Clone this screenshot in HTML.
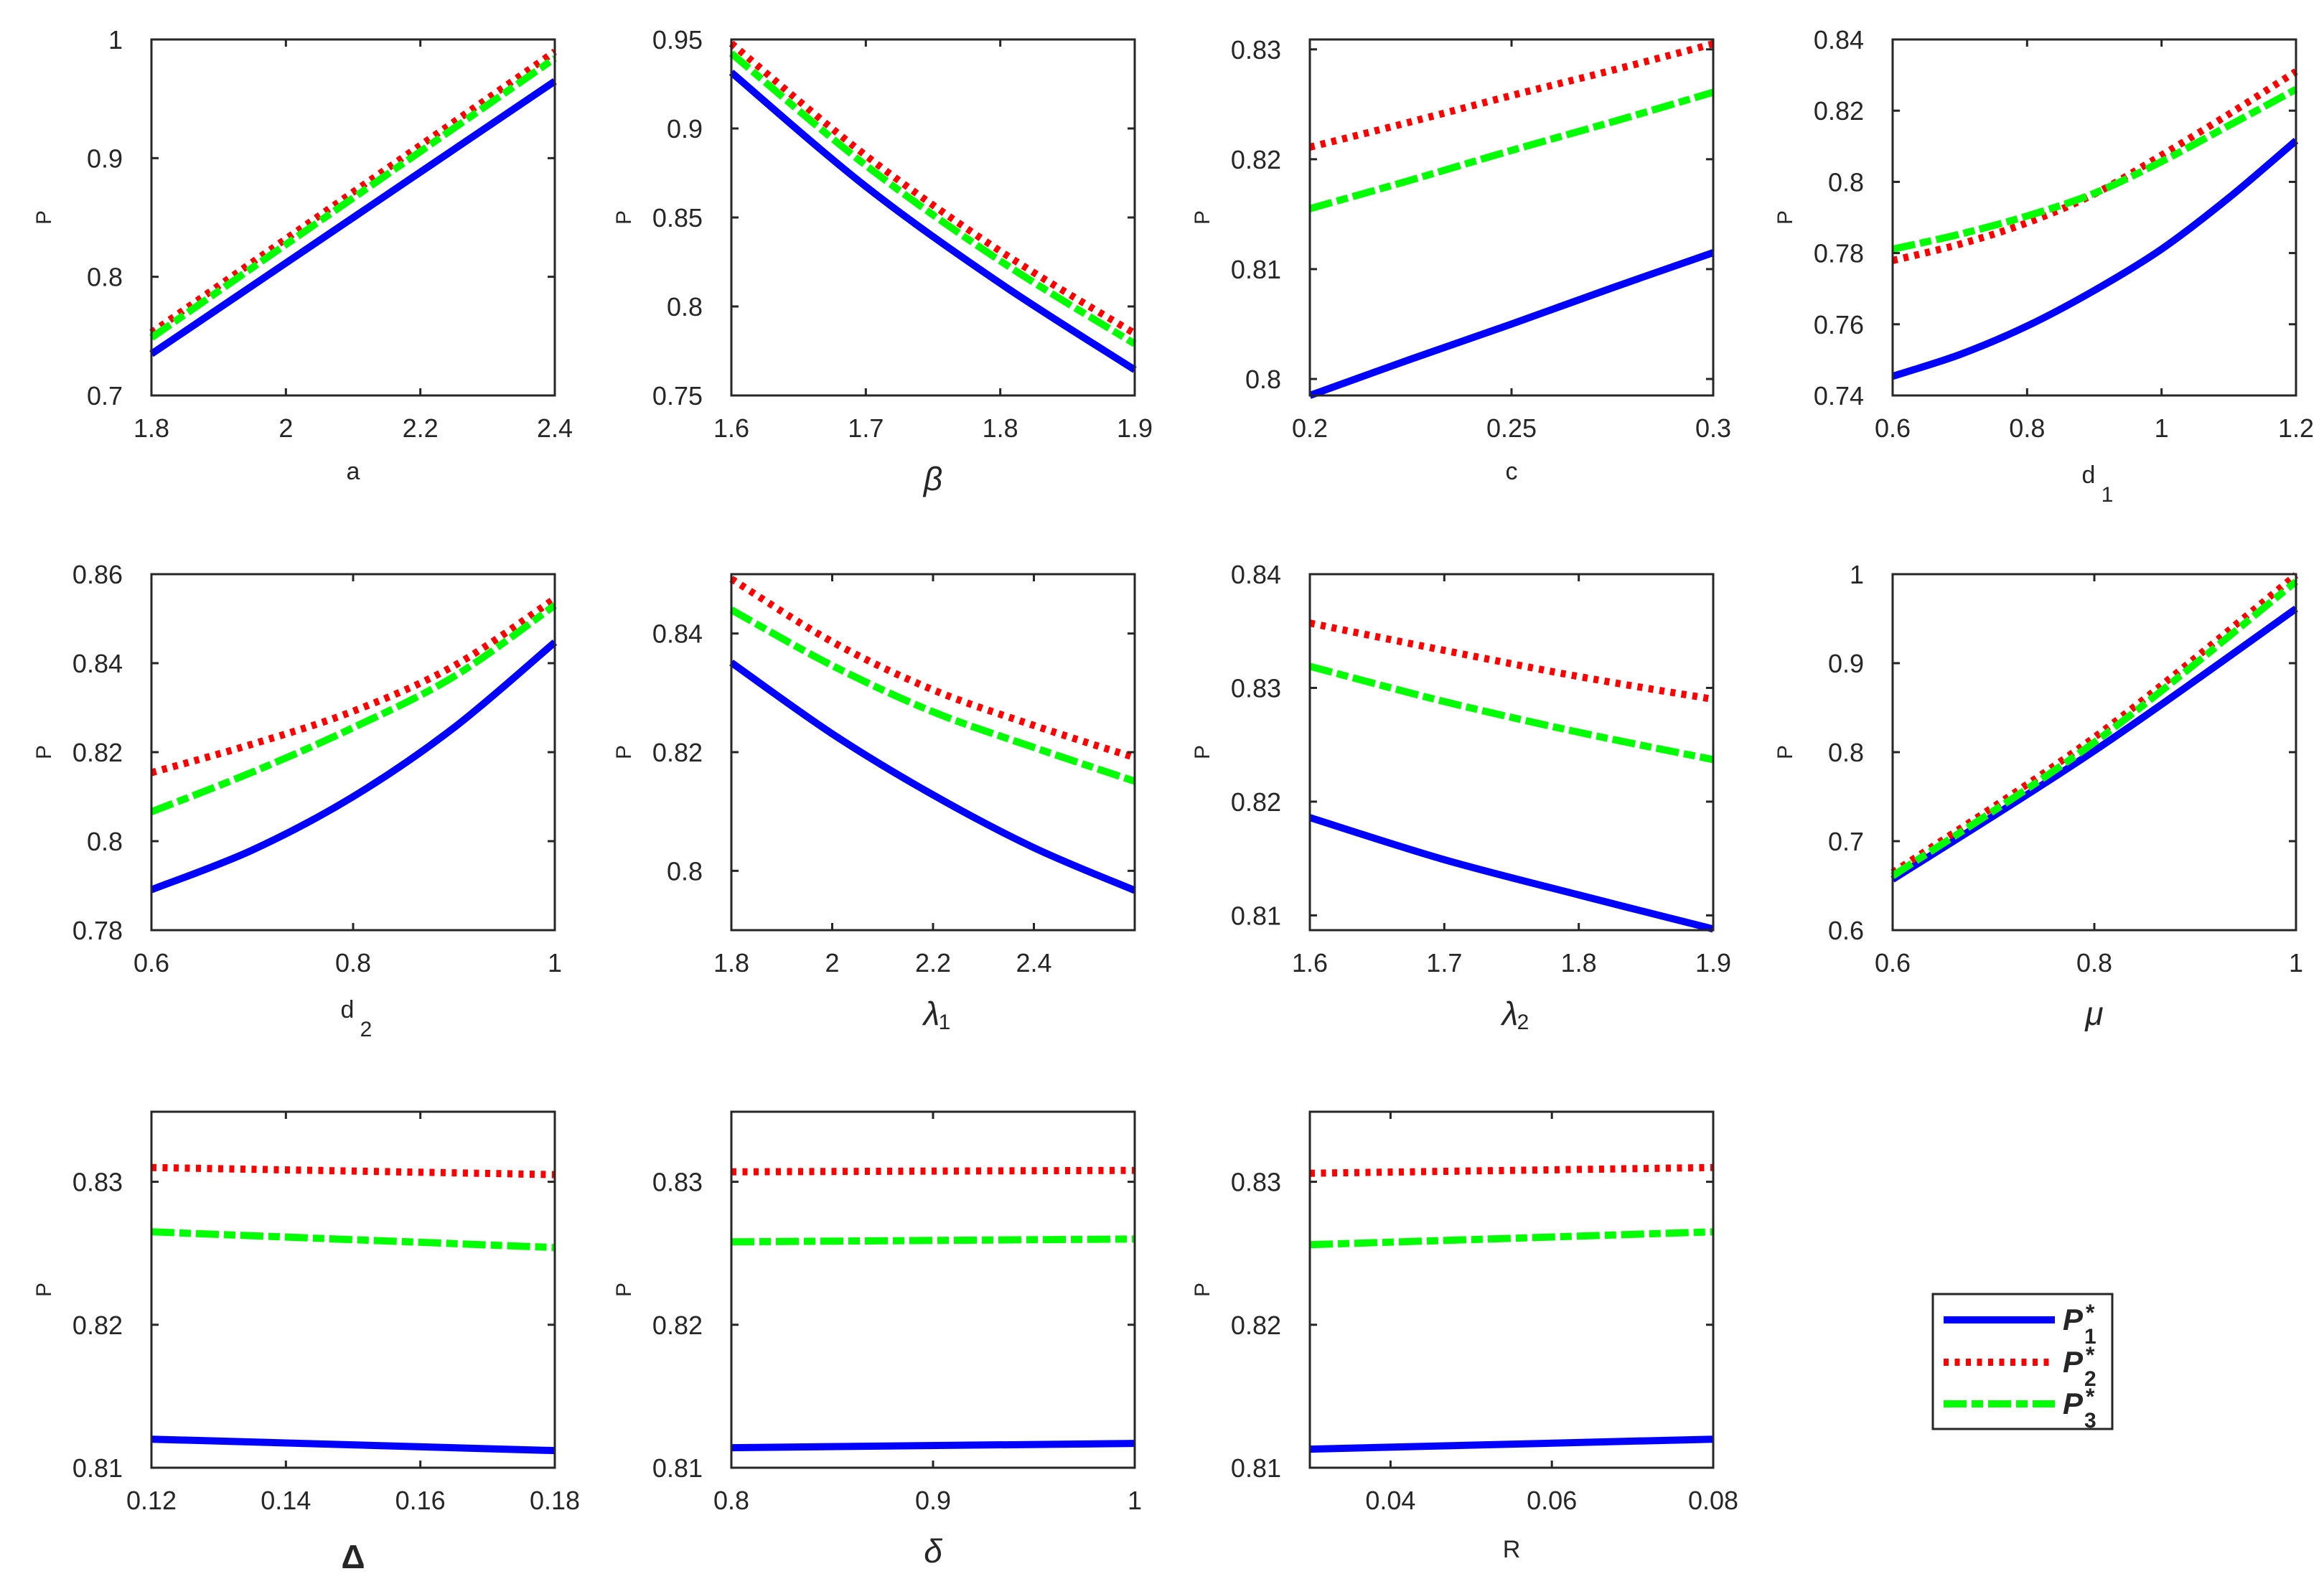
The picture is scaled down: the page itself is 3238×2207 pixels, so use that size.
<!DOCTYPE html>
<html><head><meta charset="utf-8">
<style>
html,body{margin:0;padding:0;background:#fff;}
svg{display:block;}
text{fill:#262626;font-family:"Liberation Sans",sans-serif;}
</style></head>
<body>
<svg id="fig" xmlns="http://www.w3.org/2000/svg" width="3238" height="2207" viewBox="0 0 3238 2207">
<g id="legend">
  <rect x="2693" y="1803" width="250" height="188" fill="#fff" stroke="#262626" stroke-width="3"/>
  <g>
    <line x1="2708" y1="1839" x2="2863" y2="1839" stroke="#0000ff" stroke-width="10"/>
    <text x="2874" y="1853" font-family="Liberation Serif,serif" font-style="italic" font-weight="bold" font-size="42" fill="#000">P</text>
    <text x="2904" y="1872" font-family="Liberation Serif,serif" font-weight="bold" font-size="30" fill="#000">1</text>
    <text x="2906" y="1840" font-family="Liberation Serif,serif" font-weight="bold" font-size="32" fill="#000">*</text>
  </g>
  <g>
    <line x1="2708" y1="1898" x2="2863" y2="1898" stroke="#ff0000" stroke-width="10" stroke-dasharray="7 8.5"/>
    <text x="2874" y="1912" font-family="Liberation Serif,serif" font-style="italic" font-weight="bold" font-size="42" fill="#000">P</text>
    <text x="2904" y="1931" font-family="Liberation Serif,serif" font-weight="bold" font-size="30" fill="#000">2</text>
    <text x="2906" y="1899" font-family="Liberation Serif,serif" font-weight="bold" font-size="32" fill="#000">*</text>
  </g>
  <g>
    <line x1="2708" y1="1956" x2="2863" y2="1956" stroke="#00ff00" stroke-width="10" stroke-dasharray="32 7 16 7"/>
    <text x="2874" y="1970" font-family="Liberation Serif,serif" font-style="italic" font-weight="bold" font-size="42" fill="#000">P</text>
    <text x="2904" y="1989" font-family="Liberation Serif,serif" font-weight="bold" font-size="30" fill="#000">3</text>
    <text x="2906" y="1957" font-family="Liberation Serif,serif" font-weight="bold" font-size="32" fill="#000">*</text>
  </g>
</g>
</svg>
<script>
// ---- data arrays ----
const p1X=[1.8,2.0,2.2,2.4];
const p1Blue=[0.735,0.8116,0.8882,0.9648];
const p1Red=[0.753,0.8319,0.9108,0.9897];
const p1Green=[0.7487,0.8272,0.9056,0.9841];
const p1XTicks=[1.8,2,2.2,2.4];
const p1YTicks=[0.7,0.8,0.9,1];

const p2X=[1.6,1.7,1.8,1.9];
const p2Blue=[0.9315,0.8674,0.813,0.7644];
const p2Red=[0.9478,0.8848,0.8311,0.7848];
const p2Green=[0.9422,0.8793,0.8256,0.779];
const p2XTicks=[1.6,1.7,1.8,1.9];
const p2YTicks=[0.75,0.8,0.85,0.9,0.95];

const p3X=[0.2,0.225,0.25,0.275,0.3];
const p3Blue=[0.7985,0.8018,0.805,0.8083,0.8115];
const p3Red=[0.8211,0.8234,0.8258,0.8281,0.8305];
const p3Green=[0.8155,0.8181,0.8208,0.8234,0.8261];
const p3XTicks=[0.2,0.25,0.3];
const p3YTicks=[0.8,0.81,0.82,0.83];

const p4X=[0.6,0.7,0.8,0.9,1.0,1.1,1.2];
const p4Blue=[0.7454,0.7515,0.7595,0.7695,0.7811,0.7955,0.8116];
const p4Red=[0.7779,0.7825,0.7885,0.7966,0.8075,0.819,0.831];
const p4Green=[0.7811,0.7853,0.7904,0.7968,0.8057,0.8158,0.826];
const p4XTicks=[0.6,0.8,1,1.2];
const p4YTicks=[0.74,0.76,0.78,0.8,0.82,0.84];

const p5X=[0.6,0.7,0.8,0.9,1.0];
const p5Blue=[0.7891,0.798,0.81,0.8255,0.8447];
const p5Red=[0.8154,0.8218,0.8292,0.8394,0.8545];
const p5Green=[0.8066,0.8155,0.8255,0.837,0.853];
const p5XTicks=[0.6,0.8,1];
const p5YTicks=[0.78,0.8,0.82,0.84,0.86];

const p6X=[1.8,2.0,2.2,2.4,2.6];
const p6Blue=[0.8351,0.8231,0.8128,0.8039,0.7967];
const p6Red=[0.8492,0.8386,0.8305,0.8245,0.8191];
const p6Green=[0.844,0.8346,0.8268,0.8208,0.8151];
const p6XTicks=[1.8,2,2.2,2.4];
const p6YTicks=[0.8,0.82,0.84];

const p7X=[1.6,1.7,1.8,1.9];
const p7Blue=[0.8186,0.8149,0.8118,0.8088];
const p7Red=[0.8357,0.8333,0.831,0.829];
const p7Green=[0.8319,0.8288,0.8261,0.8237];
const p7XTicks=[1.6,1.7,1.8,1.9];
const p7YTicks=[0.81,0.82,0.83,0.84];

const p8X=[0.6,0.8,1.0];
const p8Blue=[0.657,0.8015,0.9612];
const p8Red=[0.6646,0.8167,0.999];
const p8Green=[0.661,0.811,0.9916];
const p8XTicks=[0.6,0.8,1];
const p8YTicks=[0.6,0.7,0.8,0.9,1];

const p9X=[0.12,0.18];
const p9Blue=[0.812,0.8112];
const p9Red=[0.831,0.8305];
const p9Green=[0.8265,0.8254];
const p9XTicks=[0.12,0.14,0.16,0.18];

const p10X=[0.8,1.0];
const p10Blue=[0.8114,0.8117];
const p10Red=[0.8307,0.8308];
const p10Green=[0.8258,0.826];
const p10XTicks=[0.8,0.9,1];

const p11X=[0.03,0.08];
const p11Blue=[0.8113,0.812];
const p11Red=[0.8306,0.831];
const p11Green=[0.8256,0.8265];
const p11XTicks=[0.04,0.06,0.08];
const row3YTicks=[0.81,0.82,0.83];

// ---- layout ----
const NS="http://www.w3.org/2000/svg";
const svg=document.getElementById('fig');
const colL=[211,1019,1825,2637];
const rowT=[55,800,1549];
const W=562,H=496;
function mk(tag,attrs,parent){const e=document.createElementNS(NS,tag);for(const k in attrs)e.setAttribute(k,attrs[k]);(parent||svg).appendChild(e);return e;}
function fmt(v){return String(+v.toFixed(4));}
function smoothPath(pts){
  if(pts.length<3){return 'M'+pts.map(p=>p[0].toFixed(1)+','+p[1].toFixed(1)).join(' L');}
  let d='M'+pts[0][0].toFixed(1)+','+pts[0][1].toFixed(1);
  for(let i=0;i<pts.length-1;i++){
    const p0=pts[i-1]||pts[i],p1=pts[i],p2=pts[i+1],p3=pts[i+2]||pts[i+1];
    const c1=[p1[0]+(p2[0]-p0[0])/6,p1[1]+(p2[1]-p0[1])/6];
    const c2=[p2[0]-(p3[0]-p1[0])/6,p2[1]-(p3[1]-p1[1])/6];
    d+=' C'+c1[0].toFixed(1)+','+c1[1].toFixed(1)+' '+c2[0].toFixed(1)+','+c2[1].toFixed(1)+' '+p2[0].toFixed(1)+','+p2[1].toFixed(1);
  }
  return d;
}
const panels=[
 {id:'a',c:0,r:0,xd:[1.8,2.4],yd:[0.7,1],x:p1X,s:[p1Blue,p1Red,p1Green],xt:p1XTicks,yt:p1YTicks,lab:'a',kind:'plain'},
 {id:'beta',c:1,r:0,xd:[1.6,1.9],yd:[0.75,0.95],x:p2X,s:[p2Blue,p2Red,p2Green],xt:p2XTicks,yt:p2YTicks,lab:'β',kind:'greek'},
 {id:'c',c:2,r:0,xd:[0.2,0.3],yd:[0.7985,0.8309],x:p3X,s:[p3Blue,p3Red,p3Green],xt:p3XTicks,yt:p3YTicks,lab:'c',kind:'plain'},
 {id:'d1',c:3,r:0,xd:[0.6,1.2],yd:[0.74,0.84],x:p4X,s:[p4Blue,p4Red,p4Green],xt:p4XTicks,yt:p4YTicks,lab:'d',sub:'1',kind:'plainsub'},
 {id:'d2',c:0,r:1,xd:[0.6,1],yd:[0.78,0.86],x:p5X,s:[p5Blue,p5Red,p5Green],xt:p5XTicks,yt:p5YTicks,lab:'d',sub:'2',kind:'plainsub'},
 {id:'lambda1',c:1,r:1,xd:[1.8,2.6],yd:[0.79,0.85],x:p6X,s:[p6Blue,p6Red,p6Green],xt:p6XTicks,yt:p6YTicks,lab:'λ',sub:'1',kind:'greeksub'},
 {id:'lambda2',c:2,r:1,xd:[1.6,1.9],yd:[0.8087,0.84],x:p7X,s:[p7Blue,p7Red,p7Green],xt:p7XTicks,yt:p7YTicks,lab:'λ',sub:'2',kind:'greeksub'},
 {id:'mu',c:3,r:1,xd:[0.6,1],yd:[0.6,1],x:p8X,s:[p8Blue,p8Red,p8Green],xt:p8XTicks,yt:p8YTicks,lab:'μ',kind:'greek'},
 {id:'Delta',c:0,r:2,xd:[0.12,0.18],yd:[0.81,0.8349],x:p9X,s:[p9Blue,p9Red,p9Green],xt:p9XTicks,yt:row3YTicks,lab:'Δ',kind:'greekup'},
 {id:'delta',c:1,r:2,xd:[0.8,1],yd:[0.81,0.8349],x:p10X,s:[p10Blue,p10Red,p10Green],xt:p10XTicks,yt:row3YTicks,lab:'δ',kind:'greek'},
 {id:'R',c:2,r:2,xd:[0.03,0.08],yd:[0.81,0.8349],x:p11X,s:[p11Blue,p11Red,p11Green],xt:p11XTicks,yt:row3YTicks,lab:'R',kind:'plainR'}
];
const colors=['#0000ff','#ff0000','#00ff00'];
const dashes=['none','7 8.5','32 7 16 7'];
const sNames=['p1','p2','p3'];
const legendNode=document.getElementById('legend');
panels.forEach(p=>{
  const L=colL[p.c],T=rowT[p.r],R=L+W,B=T+H;
  const sx=v=>L+(v-p.xd[0])/(p.xd[1]-p.xd[0])*W;
  const sy=v=>B-(v-p.yd[0])/(p.yd[1]-p.yd[0])*H;
  const g=mk('g',{});
  
  
  svg.insertBefore(g,legendNode);
  const cp='clip-'+p.id;
  const defs=mk('defs',{},g);
  const clip=mk('clipPath',{id:cp},defs);
  mk('rect',{x:L-6,y:T-6,width:W+12,height:H+12},clip);
  p.s.forEach((vals,i)=>{
    const pts=p.x.map((xv,k)=>[sx(xv),sy(vals[k])]);
    const path=mk('path',{d:smoothPath(pts),fill:'none',stroke:colors[i],'stroke-width':10,'stroke-dasharray':dashes[i],'clip-path':'url(#'+cp+')'},g);
    
    
  });
  const box=mk('rect',{x:L,y:T,width:W,height:H,fill:'none',stroke:'#262626','stroke-width':3},g);
  
  
  p.xt.forEach(t=>{
    const x=sx(t);
    mk('line',{x1:x,y1:B,x2:x,y2:B-10,stroke:'#262626','stroke-width':3},g);
    mk('line',{x1:x,y1:T,x2:x,y2:T+10,stroke:'#262626','stroke-width':3},g);
    const tx=mk('text',{x:x,y:B+58,'font-size':36,'text-anchor':'middle'},g);
    tx.textContent=fmt(t);
    
    
  });
  p.yt.forEach(t=>{
    const y=sy(t);
    mk('line',{x1:L,y1:y,x2:L+10,y2:y,stroke:'#262626','stroke-width':3},g);
    mk('line',{x1:R,y1:y,x2:R-10,y2:y,stroke:'#262626','stroke-width':3},g);
    const ty=mk('text',{x:L-40,y:y+13,'font-size':36,'text-anchor':'end'},g);
    ty.textContent=fmt(t);
    
    
  });
  const yl=mk('text',{x:0,y:0,'font-size':30,'text-anchor':'middle',transform:'translate('+(L-140)+','+(T+H/2)+') rotate(-90)'},g);
  yl.textContent='P';
  
  
  const cx=L+W/2;
  let xl;
  if(p.kind==='plain'){
    xl=mk('text',{x:cx,y:B+117,'font-size':34,'text-anchor':'middle'},g);xl.textContent=p.lab;
  }else if(p.kind==='plainR'){
    xl=mk('text',{x:cx,y:B+125,'font-size':34,'text-anchor':'middle'},g);xl.textContent=p.lab;
  }else if(p.kind==='plainsub'){
    xl=mk('text',{x:cx-8,y:B+122,'font-size':34,'text-anchor':'middle'},g);xl.textContent=p.lab;
    const s=mk('text',{x:cx+18,y:B+148,'font-size':30,'text-anchor':'middle'},g);s.textContent=p.sub;
    
    
  }else if(p.kind==='greeksub'){
    xl=mk('text',{x:cx-2,y:B+132,'font-size':46,'text-anchor':'middle','font-style':'italic','font-family':'Liberation Serif,serif'},g);xl.textContent=p.lab;
    const s=mk('text',{x:cx+16,y:B+138,'font-size':30,'text-anchor':'middle'},g);s.textContent=p.sub;
    
    
  }else if(p.kind==='greekup'){
    xl=mk('text',{x:cx,y:B+140,'font-size':46,'text-anchor':'middle','font-family':'Liberation Serif,serif','font-weight':'bold'},g);xl.textContent=p.lab;
  }else{
    xl=mk('text',{x:cx,y:B+132,'font-size':46,'text-anchor':'middle','font-style':'italic','font-family':'Liberation Serif,serif'},g);xl.textContent=p.lab;
  }
  
  
});
</script>
</body></html>
